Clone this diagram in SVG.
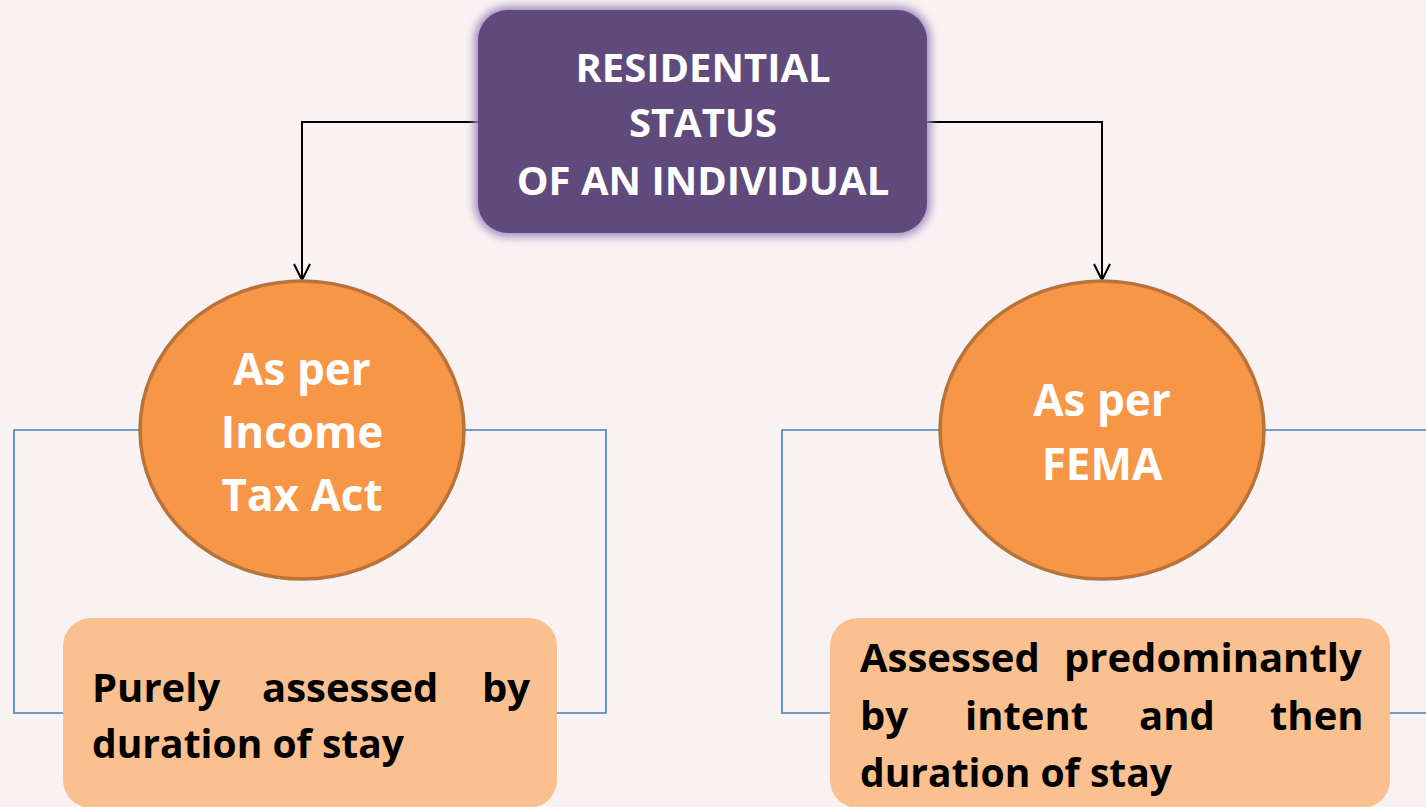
<svg xmlns="http://www.w3.org/2000/svg" width="1426" height="807" viewBox="0 0 1426 807">
<defs>
<style>
.bg{fill:#f8f2f2}
.title{font-family:"Open Sans","Liberation Sans",sans-serif;font-weight:bold;font-size:40px;fill:#ffffff;text-anchor:middle}
.circ{fill:#f79646;stroke:#b8733a;stroke-width:3.5}
.ctext{font-family:"Open Sans","Liberation Sans",sans-serif;font-weight:bold;font-size:44px;fill:#ffffff;text-anchor:middle}
.box{fill:#fac090}
.btext{font-family:"Open Sans","Liberation Sans",sans-serif;font-weight:bold;font-size:40px;fill:#000000}
.arrow{fill:none;stroke:#000000;stroke-width:2}
.blue{fill:none;stroke:#4a7ebb;stroke-width:1.6}
</style>
<marker id="vhead" viewBox="0 0 20 20" refX="18" refY="10" markerWidth="20" markerHeight="20" markerUnits="userSpaceOnUse" orient="auto">
<path d="M2,2 L18,10 L2,18" fill="none" stroke="#000" stroke-width="2"/>
</marker>
<filter id="glow" x="-20%" y="-20%" width="140%" height="140%">
<feGaussianBlur stdDeviation="4"/>
</filter>
</defs>
<rect class="bg" x="0" y="0" width="1426" height="807"/>
<g id="connectors">
<path class="arrow" d="M478,122 H302 V280" marker-end="url(#vhead)"/>
<path class="arrow" d="M927,122 H1102 V280" marker-end="url(#vhead)"/>
<path class="blue" d="M140,430 H14 V713 H63"/>
<path class="blue" d="M464,430 H606 V713 H557"/>
<path class="blue" d="M940,430 H782 V713 H830"/>
<path class="blue" d="M1265,430 H1430"/>
<path class="blue" d="M1390,713 H1430"/>
</g>
<g id="title">
<rect x="474" y="6" width="457" height="231" rx="34" fill="#a58fc4" filter="url(#glow)"/>
<rect x="478" y="10" width="449" height="223" rx="30" fill="#604a7b"/>
<text class="title" x="703" y="82">RESIDENTIAL</text>
<text class="title" x="703" y="137">STATUS</text>
<text class="title" x="703" y="195">OF AN INDIVIDUAL</text>
</g>
<g id="income-tax">
<ellipse class="circ" cx="302" cy="430" rx="162" ry="149"/>
<text class="ctext" x="302" y="385">As per</text>
<text class="ctext" x="302" y="448">Income</text>
<text class="ctext" x="302" y="511">Tax Act</text>
</g>
<g id="fema">
<ellipse class="circ" cx="1102" cy="430" rx="162" ry="149"/>
<text class="ctext" x="1102" y="416">As per</text>
<text class="ctext" x="1102" y="480">FEMA</text>
</g>
<g id="income-tax-note">
<rect class="box" x="63" y="618" width="494" height="190" rx="28"/>
<text class="btext" y="702"><tspan x="92">Purely</tspan><tspan x="262">assessed</tspan><tspan x="482">by</tspan></text>
<text class="btext" x="92" y="758" textLength="312" lengthAdjust="spacingAndGlyphs">duration of stay</text>
</g>
<g id="fema-note">
<rect class="box" x="830" y="618" width="560" height="190" rx="28"/>
<text class="btext" y="672"><tspan x="860">Assessed</tspan><tspan x="1064">predominantly</tspan></text>
<text class="btext" y="730"><tspan x="860">by</tspan><tspan x="965">intent</tspan><tspan x="1139">and</tspan><tspan x="1270">then</tspan></text>
<text class="btext" x="860" y="787" textLength="312" lengthAdjust="spacingAndGlyphs">duration of stay</text>
</g>
</svg>
